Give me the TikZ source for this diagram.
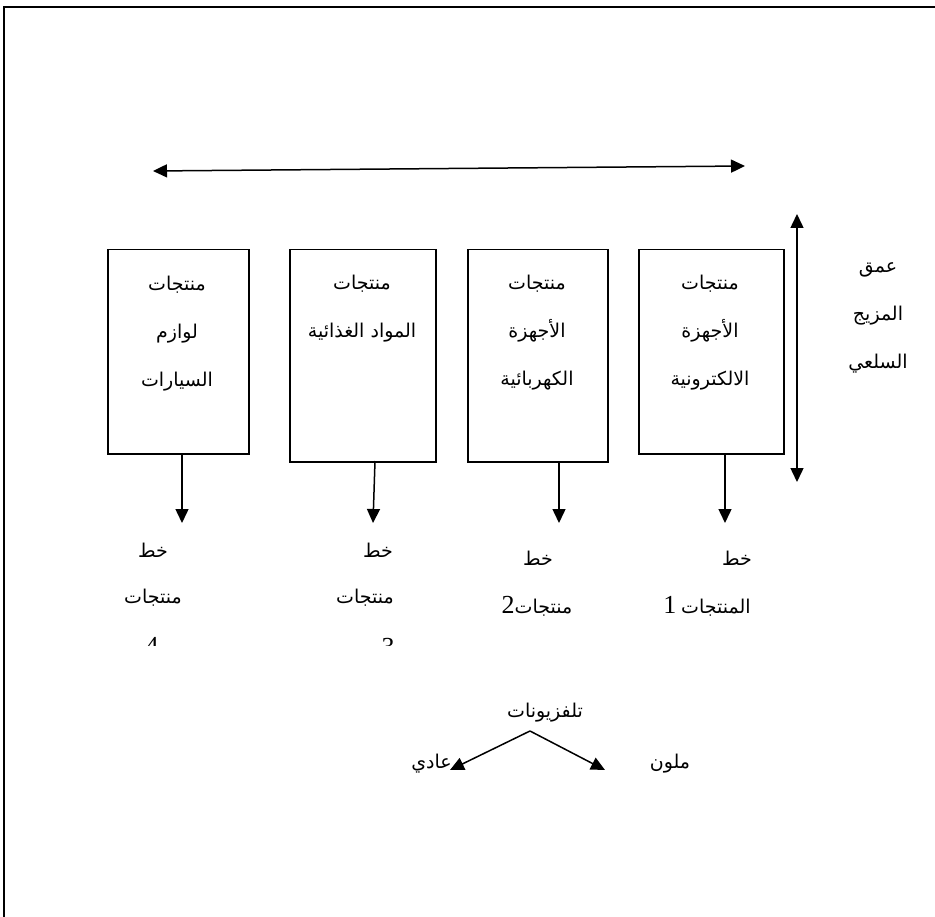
\documentclass[tikz,border=0pt]{standalone}
\usepackage{fontspec}
\setmainfont{Liberation Serif}
\newfontfamily\arabicfont[Script=Arabic]{DejaVu Sans}
\TeXXeTstate=1
\usetikzlibrary{arrows.meta}
\newcommand{\artext}[1]{{\arabicfont\beginR #1\endR}}
\begin{document}
\begin{tikzpicture}[x=1pt,y=-1pt,
  line/.style={line width=1.5pt},
  tip/.style={-{Triangle[length=14pt,width=13pt]}},
  bitip/.style={{Triangle[length=14pt,width=13pt]}-{Triangle[length=14pt,width=13pt]}},
  catbox/.style={draw,line width=1.5pt,inner sep=0pt,anchor=north west},
  label/.style={inner sep=0pt,font=\fontsize{19}{22}\selectfont},
  boxtext/.style={inner sep=0pt,align=center,font=\fontsize{19}{48}\selectfont},
  digit/.style={inner sep=0pt,font=\fontsize{26}{28}\selectfont}]
\useasboundingbox (0,0) rectangle (935,917);
\fill[white] (0,0) rectangle (935,917);

% outer frame (top and left edges)
\coordinate (frameTR) at (935,7);
\coordinate (frameTL) at (4,7);
\coordinate (frameBL) at (4,917);
\draw[line width=1.7pt] (frameTR) -- (frameTL) -- (frameBL);

% breadth of the product mix
\coordinate (wL) at (153,171);
\coordinate (wR) at (745,166);
\draw[line,bitip] (wL) -- (wR);

% depth of the product mix
\coordinate (dT) at (797,214);
\coordinate (dB) at (797,482);
\draw[line,bitip] (dT) -- (dB);
\node[boxtext] (depth) at (878,318)
  {\artext{عمق}\\ \artext{المزيج}\\ \artext{السلعي}};

% product category boxes
\node[catbox,minimum width=141pt,minimum height=204pt] (b4) at (107,249) {};
\node[catbox,minimum width=146pt,minimum height=212pt] (b3) at (289,249) {};
\node[catbox,minimum width=140pt,minimum height=212pt] (b2) at (467,249) {};
\node[catbox,minimum width=145pt,minimum height=204pt] (b1) at (638,249) {};

\node[boxtext] (t4) at (177,334) {\artext{منتجات}\\ \artext{لوازم}\\ \artext{السيارات}};
\node[boxtext] (t3) at (362,309) {\artext{منتجات}\\ \artext{المواد الغذائية}};
\node[boxtext] (t2) at (537,333) {\artext{منتجات}\\ \artext{الأجهزة}\\ \artext{الكهربائية}};
\node[boxtext] (t1) at (710,333) {\artext{منتجات}\\ \artext{الأجهزة}\\ \artext{الالكترونية}};

% product lines
\coordinate (a4) at (182,523);
\coordinate (a3) at (373,523);
\coordinate (a2) at (559,523);
\coordinate (a1) at (725,523);
\draw[line,tip] (b4.south -| a4) -- (a4);
\draw[line,tip] (375,461) -- (a3);
\draw[line,tip] (b2.south -| a2) -- (a2);
\draw[line,tip] (b1.south -| a1) -- (a1);

\node[label] (l4a) at (153,550) {\artext{خط}};
\node[label] (l4b) at (153,598) {\artext{منتجات}};
\node[label] (l3a) at (378,550) {\artext{خط}};
\node[label] (l3b) at (365,598) {\artext{منتجات}};
\node[label] (l2a) at (538,558) {\artext{خط}};
\node[label] (l2b) at (537,606) {\beginR{\arabicfont منتجات}{\fontsize{26}{28}\selectfont 2}\endR};
\node[label] (l1a) at (737,558) {\artext{خط}};
\node[label] (l1b) at (707,606) {\beginR{\arabicfont المنتجات} {\fontsize{26}{28}\selectfont 1}\endR};

% line numbers cut off by the text frame
\begin{scope}
  \clip (100,620) rectangle (420,645);
  \node[digit] (l4c) at (152,646) {4};
  \node[digit] (l3c) at (388,647) {3};
\end{scope}

% product items of one line
\node[label] (tv) at (545,713) {\artext{تلفزيونات}};
\coordinate (apex) at (530,731);
\coordinate (plainTip) at (450,770);
\coordinate (colorTip) at (605,770);
\draw[line,tip] (apex) -- (plainTip);
\draw[line,tip] (apex) -- (colorTip);
\node[label,anchor=east] (plain) at (452,764) {\artext{عادي}};
\node[label] (color) at (670,764) {\artext{ملون}};
\end{tikzpicture}
\end{document}
